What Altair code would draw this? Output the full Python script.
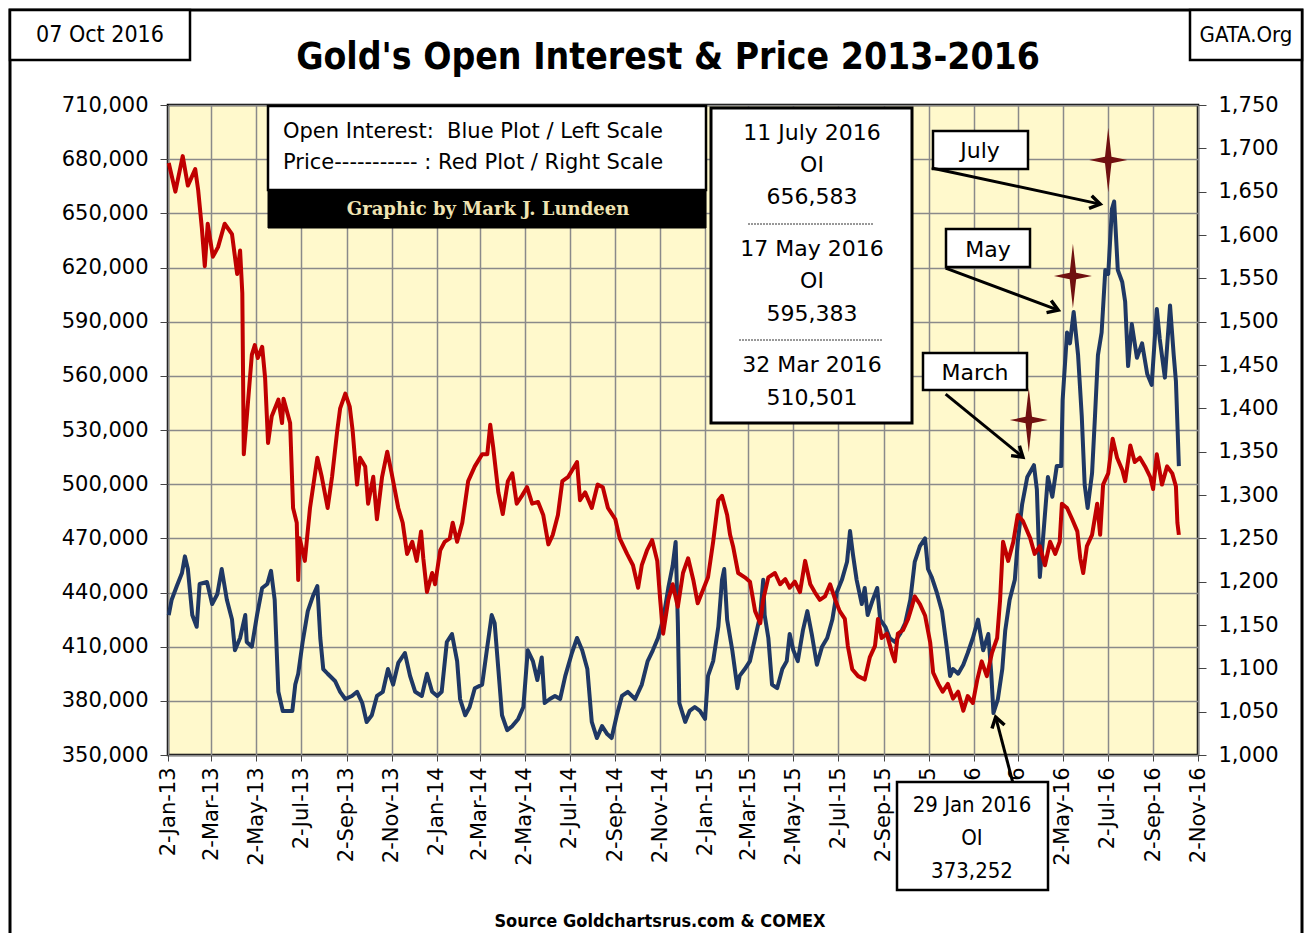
import altair as alt
import pandas as pd

# ---------------- data ----------------
price_dates = ["2013-01-03","2013-01-12","2013-01-22","2013-01-29","2013-02-08","2013-02-12","2013-02-17","2013-02-21","2013-02-25","2013-03-04","2013-03-11","2013-03-20","2013-03-30","2013-04-06","2013-04-10","2013-04-13","2013-04-15","2013-04-21","2013-04-26","2013-04-30","2013-05-04","2013-05-10","2013-05-14","2013-05-18","2013-05-23","2013-06-01","2013-06-06","2013-06-08","2013-06-17","2013-06-21","2013-06-26","2013-06-28","2013-06-30","2013-07-07","2013-07-14","2013-07-24","2013-07-30","2013-08-07","2013-08-13","2013-08-20","2013-08-24","2013-08-31","2013-09-06","2013-09-10","2013-09-16","2013-09-20","2013-09-27","2013-10-01","2013-10-08","2013-10-13","2013-10-20","2013-10-27","2013-11-02","2013-11-11","2013-11-17","2013-11-23","2013-11-30","2013-12-06","2013-12-12","2013-12-15","2013-12-20","2013-12-27","2013-12-31","2014-01-07","2014-01-13","2014-01-20","2014-01-24","2014-01-30","2014-02-06","2014-02-14","2014-02-23","2014-03-05","2014-03-12","2014-03-16","2014-03-20","2014-03-27","2014-04-02","2014-04-09","2014-04-15","2014-04-21","2014-04-28","2014-05-05","2014-05-12","2014-05-20","2014-05-27","2014-06-03","2014-06-09","2014-06-16","2014-06-22","2014-06-30","2014-07-12","2014-07-16","2014-07-23","2014-08-01","2014-08-09","2014-08-16","2014-08-23","2014-09-02","2014-09-08","2014-09-18","2014-09-26","2014-10-03","2014-10-08","2014-10-15","2014-10-22","2014-10-29","2014-11-02","2014-11-06","2014-11-13","2014-11-19","2014-11-26","2014-12-03","2014-12-10","2014-12-17","2014-12-23","2014-12-30","2015-01-06","2015-01-13","2015-01-20","2015-01-25","2015-02-01","2015-02-05","2015-02-09","2015-02-16","2015-02-25","2015-03-04","2015-03-11","2015-03-18","2015-03-22","2015-03-29","2015-04-07","2015-04-14","2015-04-21","2015-04-27","2015-05-04","2015-05-11","2015-05-18","2015-05-25","2015-05-31","2015-06-07","2015-06-14","2015-06-21","2015-06-28","2015-07-04","2015-07-11","2015-07-15","2015-07-21","2015-07-29","2015-08-07","2015-08-14","2015-08-21","2015-08-25","2015-08-30","2015-09-06","2015-09-13","2015-09-17","2015-09-21","2015-09-28","2015-10-05","2015-10-10","2015-10-14","2015-10-21","2015-10-28","2015-11-04","2015-11-08","2015-11-15","2015-11-21","2015-11-28","2015-12-05","2015-12-12","2015-12-19","2015-12-25","2016-01-01","2016-01-07","2016-01-13","2016-01-20","2016-01-27","2016-02-03","2016-02-07","2016-02-11","2016-02-18","2016-02-25","2016-03-02","2016-03-09","2016-03-19","2016-03-25","2016-04-01","2016-04-08","2016-04-15","2016-04-22","2016-04-28","2016-05-01","2016-05-08","2016-05-15","2016-05-22","2016-05-26","2016-05-30","2016-06-04","2016-06-11","2016-06-18","2016-06-22","2016-06-26","2016-07-03","2016-07-09","2016-07-15","2016-07-22","2016-07-26","2016-08-02","2016-08-08","2016-08-15","2016-08-22","2016-08-29","2016-09-02","2016-09-07","2016-09-14","2016-09-21","2016-09-28","2016-10-03","2016-10-05","2016-10-07"]
price_values = [1683,1650,1691,1657,1676,1652,1608,1564,1613,1575,1586,1613,1601,1555,1582,1533,1347,1410,1462,1473,1458,1471,1435,1360,1391,1410,1383,1411,1383,1285,1268,1202,1250,1224,1285,1343,1321,1285,1321,1374,1400,1417,1402,1374,1312,1343,1333,1290,1321,1272,1321,1350,1325,1285,1268,1232,1246,1224,1258,1227,1188,1210,1197,1236,1246,1250,1268,1246,1268,1316,1333,1347,1347,1381,1355,1303,1278,1316,1325,1290,1299,1309,1290,1292,1277,1243,1254,1277,1316,1321,1338,1294,1303,1285,1312,1309,1285,1272,1250,1232,1219,1193,1219,1236,1248,1224,1179,1140,1179,1197,1171,1210,1227,1202,1175,1190,1205,1246,1294,1299,1277,1254,1241,1210,1205,1200,1166,1152,1179,1205,1210,1197,1203,1193,1200,1188,1224,1197,1188,1179,1183,1197,1179,1166,1157,1126,1099,1091,1087,1113,1126,1157,1135,1140,1118,1108,1140,1144,1157,1171,1183,1174,1161,1130,1095,1082,1073,1082,1065,1073,1051,1068,1060,1087,1108,1091,1118,1135,1179,1246,1224,1246,1277,1270,1250,1232,1241,1219,1246,1232,1246,1290,1285,1272,1258,1227,1210,1241,1254,1290,1254,1312,1325,1365,1343,1329,1316,1357,1338,1343,1333,1321,1307,1347,1312,1333,1325,1310,1268,1254]

oi_dates = ["2013-01-03","2013-01-07","2013-01-14","2013-01-21","2013-01-25","2013-01-29","2013-02-04","2013-02-10","2013-02-14","2013-02-24","2013-03-03","2013-03-10","2013-03-16","2013-03-23","2013-03-30","2013-04-03","2013-04-10","2013-04-17","2013-04-19","2013-04-26","2013-05-03","2013-05-10","2013-05-17","2013-05-22","2013-05-27","2013-06-01","2013-06-07","2013-06-20","2013-06-24","2013-06-28","2013-07-04","2013-07-11","2013-07-18","2013-07-24","2013-07-28","2013-08-01","2013-08-07","2013-08-17","2013-08-24","2013-08-31","2013-09-09","2013-09-16","2013-09-23","2013-09-29","2013-10-06","2013-10-13","2013-10-21","2013-10-28","2013-11-04","2013-11-11","2013-11-20","2013-11-27","2013-12-04","2013-12-13","2013-12-20","2013-12-27","2014-01-03","2014-01-09","2014-01-16","2014-01-23","2014-01-30","2014-02-03","2014-02-10","2014-02-16","2014-02-23","2014-03-05","2014-03-12","2014-03-18","2014-03-22","2014-03-27","2014-04-01","2014-04-08","2014-04-15","2014-04-23","2014-04-30","2014-05-06","2014-05-13","2014-05-19","2014-05-25","2014-05-29","2014-06-05","2014-06-12","2014-06-19","2014-06-26","2014-07-05","2014-07-12","2014-07-19","2014-07-26","2014-08-01","2014-08-08","2014-08-15","2014-08-22","2014-08-28","2014-09-04","2014-09-11","2014-09-19","2014-09-29","2014-10-08","2014-10-16","2014-10-23","2014-10-30","2014-11-06","2014-11-13","2014-11-19","2014-11-23","2014-11-26","2014-11-28","2014-12-06","2014-12-12","2014-12-19","2014-12-26","2015-01-02","2015-01-06","2015-01-13","2015-01-20","2015-01-25","2015-01-28","2015-02-01","2015-02-08","2015-02-15","2015-02-18","2015-02-25","2015-03-04","2015-03-11","2015-03-18","2015-03-22","2015-03-24","2015-03-29","2015-04-03","2015-04-10","2015-04-17","2015-04-23","2015-04-27","2015-05-02","2015-05-08","2015-05-15","2015-05-21","2015-05-27","2015-06-03","2015-06-10","2015-06-17","2015-06-24","2015-06-30","2015-07-07","2015-07-14","2015-07-18","2015-07-22","2015-07-27","2015-08-03","2015-08-07","2015-08-11","2015-08-18","2015-08-24","2015-08-28","2015-09-04","2015-09-10","2015-09-17","2015-09-24","2015-10-01","2015-10-08","2015-10-14","2015-10-21","2015-10-28","2015-11-01","2015-11-06","2015-11-13","2015-11-20","2015-11-27","2015-12-01","2015-12-05","2015-12-12","2015-12-19","2015-12-25","2016-01-01","2016-01-08","2016-01-15","2016-01-22","2016-01-26","2016-01-29","2016-02-04","2016-02-10","2016-02-14","2016-02-20","2016-02-27","2016-03-02","2016-03-08","2016-03-15","2016-03-24","2016-03-28","2016-04-01","2016-04-05","2016-04-12","2016-04-18","2016-04-24","2016-04-30","2016-05-02","2016-05-08","2016-05-12","2016-05-17","2016-05-23","2016-05-28","2016-06-01","2016-06-05","2016-06-11","2016-06-15","2016-06-19","2016-06-24","2016-06-29","2016-07-03","2016-07-08","2016-07-11","2016-07-16","2016-07-22","2016-07-26","2016-07-30","2016-08-04","2016-08-11","2016-08-18","2016-08-25","2016-08-31","2016-09-07","2016-09-11","2016-09-18","2016-09-25","2016-09-30","2016-10-03","2016-10-07"]
oi_values = [427500,436000,443600,450800,460000,453000,427500,421000,444700,445800,433600,439000,453000,436000,425000,408000,414800,427500,412600,410000,427500,442500,444700,452000,436000,385000,374400,374400,389000,395000,412600,429700,438000,443600,414800,397600,395000,391000,385000,381000,382700,385000,378800,368300,372000,382700,385000,397600,389000,401000,406500,393800,385000,382700,395000,385000,382700,385000,412600,417000,402000,381000,372000,376600,387000,389000,410000,427500,423000,397600,372000,363800,366000,370000,376600,408000,402000,391500,404000,378800,381000,382700,381000,393800,406500,414800,408000,397600,368300,359400,366000,361600,359400,372000,382700,385000,381000,389000,402000,408000,414800,425000,442500,455000,468000,423000,378800,368300,374400,376600,374400,370000,393800,402000,421000,447000,453000,425000,408000,387000,393800,397600,402000,414800,427500,447000,427500,414800,389000,387000,397600,402000,417000,408000,402000,419000,429700,417000,400000,410000,414800,425000,440000,447000,457000,474000,461000,447000,433600,442500,427500,436000,442500,425000,421000,414800,412600,417000,423000,436000,457000,465700,470000,453000,448600,440000,429700,408000,393800,397600,395000,400000,406500,414800,425000,408000,417000,395000,373252,381000,397600,419000,436000,447000,468000,489000,504000,510501,497000,448600,468000,504000,493000,510000,510000,546600,584000,578000,595383,571500,537700,499500,486800,506000,537700,571500,584000,618600,616400,652400,656583,618600,612000,601000,565400,588700,570000,578000,561000,555000,597000,580400,559000,599000,571500,557000,510000]

x_tick_dates = [(2013, 1), (2013, 3), (2013, 5), (2013, 7), (2013, 9), (2013, 11),
                (2014, 1), (2014, 3), (2014, 5), (2014, 7), (2014, 9), (2014, 11),
                (2015, 1), (2015, 3), (2015, 5), (2015, 7), (2015, 9), (2015, 11),
                (2016, 1), (2016, 3), (2016, 5), (2016, 7), (2016, 9), (2016, 11)]
oi_ticks = [350000, 380000, 410000, 440000, 470000, 500000, 530000, 560000,
            590000, 620000, 650000, 680000, 710000]
price_ticks = [1000, 1050, 1100, 1150, 1200, 1250, 1300, 1350, 1400, 1450,
               1500, 1550, 1600, 1650, 1700, 1750]

star_dates = ["2016-03-17", "2016-05-16", "2016-07-03"]
star_oi = [535500, 615300, 679500]

arrow_from_dates = ["2015-11-06", "2015-11-25", "2015-11-25", "2016-02-27"]
arrow_from_oi = [675100, 619700, 549900, 330600]
arrow_to_dates = ["2016-06-22", "2016-04-26", "2016-03-09", "2016-02-01"]
arrow_to_oi = [655100, 596400, 515000, 371000]
arrow_angles = [12, 21, 40, 255]

# ---------------- styling ----------------
SANS = "DejaVu Sans"
NARROW = "Liberation Sans Narrow, DejaVu Sans Condensed, Liberation Sans, sans-serif"
SERIF = "DejaVu Serif"
BLUE = "#1F3864"
RED = "#C00000"
STAR = "#701010"
W, H = 1030, 650
OI_DOMAIN = [350000, 710000]
PRICE_DOMAIN = [1000, 1750]
NB = "\u00a0"

price_df = pd.DataFrame({"date": pd.to_datetime(price_dates), "price": price_values})
oi_df = pd.DataFrame({"date": pd.to_datetime(oi_dates), "oi": oi_values})
star_df = pd.DataFrame({"date": pd.to_datetime(star_dates), "oi": star_oi})
arrow_df = pd.DataFrame({
    "d1": pd.to_datetime(arrow_from_dates), "o1": arrow_from_oi,
    "d2": pd.to_datetime(arrow_to_dates), "o2": arrow_to_oi,
    "angle": arrow_angles,
})
dummy = pd.DataFrame({"k": [0]})

x_values = [alt.DateTime(year=y, month=m, date=2) for y, m in x_tick_dates]
x_scale = alt.Scale(domain=[alt.DateTime(year=2013, month=1, date=2),
                            alt.DateTime(year=2016, month=11, date=2)])
oi_scale = alt.Scale(domain=OI_DOMAIN, nice=False, zero=False)
price_scale = alt.Scale(domain=PRICE_DOMAIN, nice=False, zero=False)

x_axis = alt.Axis(values=x_values, title=None, grid=True, gridColor="#8a8a8a",
                  gridWidth=1.5, labelAngle=270, labelAlign="right",
                  labelBaseline="middle", labelExpr="timeFormat(datum.value, '%-d-%b-%y')",
                  labelFont=SANS, labelFontSize=21, labelColor="black",
                  labelPadding=6, tickSize=6, tickColor="#444", domain=False,
                  labelOverlap=False, labelBound=False, labelFlush=False)
oi_axis = alt.Axis(orient="left", values=oi_ticks, format=",d", title=None,
                   grid=True, gridColor="#8a8a8a", gridWidth=1.5,
                   labelFont=SANS, labelFontSize=21, labelColor="black",
                   labelPadding=12, tickSize=8, tickColor="#444", domain=False,
                   labelOverlap=False)
price_axis = alt.Axis(orient="right", values=price_ticks, format=",d", title=None,
                      grid=False, labelFont=SANS, labelFontSize=21,
                      labelColor="black", labelPadding=12, tickSize=8,
                      tickColor="#444", domain=False, labelOverlap=False)


def txt(s, x, y, size=22, font=SANS, weight="normal", color="black", align="center"):
    return alt.Chart(dummy).mark_text(
        text=s, fontSize=size, font=font, fontWeight=weight, color=color,
        align=align, baseline="middle"
    ).encode(x=alt.value(x), y=alt.value(y))


def box(x1, y1, x2, y2, fill="white", stroke="black", sw=2.5):
    return alt.Chart(dummy).mark_rect(fill=fill, stroke=stroke, strokeWidth=sw).encode(
        x=alt.value(x1), x2=alt.value(x2), y=alt.value(y1), y2=alt.value(y2))


def hline(x1, x2, y, sw=1):
    return alt.Chart(dummy).mark_rule(color="#333", strokeWidth=sw, strokeDash=[2, 1]).encode(
        x=alt.value(x1), x2=alt.value(x2), y=alt.value(y))


# ---------------- marks ----------------
blue_line = alt.Chart(oi_df).mark_line(color=BLUE, strokeWidth=4, strokeJoin="round").encode(
    x=alt.X("date:T", scale=x_scale, axis=x_axis),
    y=alt.Y("oi:Q", scale=oi_scale, axis=oi_axis),
)

red_line = alt.Chart(price_df).mark_line(color=RED, strokeWidth=4, strokeJoin="round").encode(
    x=alt.X("date:T", scale=x_scale, axis=x_axis),
    y=alt.Y("price:Q", scale=price_scale, axis=price_axis),
)

STAR_PATH = "M0,-1.7 L0.17,-0.17 L1,0 L0.17,0.17 L0,1.7 L-0.17,0.17 L-1,0 L-0.17,-0.17 Z"
stars = alt.Chart(star_df).mark_point(shape=STAR_PATH, filled=True, color=STAR,
                                      size=1444, opacity=1).encode(
    x=alt.X("date:T", scale=x_scale),
    y=alt.Y("oi:Q", scale=oi_scale),
)

arrow_lines = alt.Chart(arrow_df).mark_rule(color="black", strokeWidth=3).encode(
    x=alt.X("d1:T", scale=x_scale), y=alt.Y("o1:Q", scale=oi_scale),
    x2="d2:T", y2="o2:Q",
)
HEAD_PATH = "M-1,-0.65 L0,0 L-1,0.65"
arrow_heads = alt.Chart(arrow_df).mark_point(shape=HEAD_PATH, filled=False, color="black",
                                             strokeWidth=3.5, size=400, opacity=1,
                                             strokeJoin="miter").encode(
    x=alt.X("d2:T", scale=x_scale), y=alt.Y("o2:Q", scale=oi_scale),
    angle=alt.Angle("angle:Q", scale=None),
)

# chart coordinates: origin at top-left of plot area
annotations = [
    # outer frame and corner boxes
    box(-158, -95, 1134, 860, fill="transparent", sw=3),
    box(-158, -95, 22, -45, sw=2.5),
    box(1022, -95, 1134, -45, sw=2.5),
    txt("07 Oct 2016", -68, -70, size=23, font=NARROW),
    txt("GATA.Org", 1078, -70, size=22, font=NARROW),
    txt("Gold's Open Interest & Price 2013-2016", 500, -47, size=37, font=NARROW, weight="bold"),
    # legend box
    box(100, 1, 538, 85, sw=2.5),
    box(100, 85, 538, 123, fill="black", sw=1),
    txt("Open Interest:" + NB + NB + "Blue Plot / Left Scale", 115, 27, size=21, align="left"),
    txt("Price-----------" + NB + ":" + NB + "Red Plot / Right Scale", 115, 58, size=21, align="left"),
    txt("Graphic by Mark J. Lundeen", 320, 105, size=18, font=SERIF, weight="bold", color="#EFE3B2"),
    # info box
    box(543, 3, 744, 318, sw=3),
    txt("11 July 2016", 644, 28),
    txt("OI", 644, 60),
    txt("656,583", 644, 92),
    hline(580, 706, 119),
    txt("17 May 2016", 644, 144),
    txt("OI", 644, 176),
    txt("595,383", 644, 209),
    hline(571, 715, 235),
    txt("32 Mar 2016", 644, 260),
    txt("510,501", 644, 293),
    # label boxes
    box(765, 26, 860, 64, sw=2.5),
    txt("July", 812, 46),
    box(778, 124, 862, 162, sw=2.5),
    txt("May", 820, 145),
    box(755, 248, 859, 285, sw=2.5),
    txt("March", 807, 268),
]

jan_box = [
    box(729, 677, 880, 785, sw=2.5),
    txt("29 Jan 2016", 804, 700, size=22, font=NARROW),
    txt("OI", 804, 733, size=22, font=NARROW),
    txt("373,252", 804, 766, size=22, font=NARROW),
    txt("Source Goldchartsrus.com & COMEX", 492, 817, size=18, font=NARROW, weight="bold"),
]

oi_group = alt.layer(blue_line, *annotations, arrow_lines, arrow_heads, stars, *jan_box)

chart = alt.layer(oi_group, red_line).resolve_scale(y="independent").properties(
    width=W, height=H,
    autosize=alt.AutoSizeParams(type="none"),
    padding={"left": 160, "top": 97, "right": 106, "bottom": 178},
    background="white",
).configure_view(fill="#FFF9CC", stroke="black", strokeWidth=2.5)

chart.save("out.html", embed_options={"renderer": "svg", "actions": False})
